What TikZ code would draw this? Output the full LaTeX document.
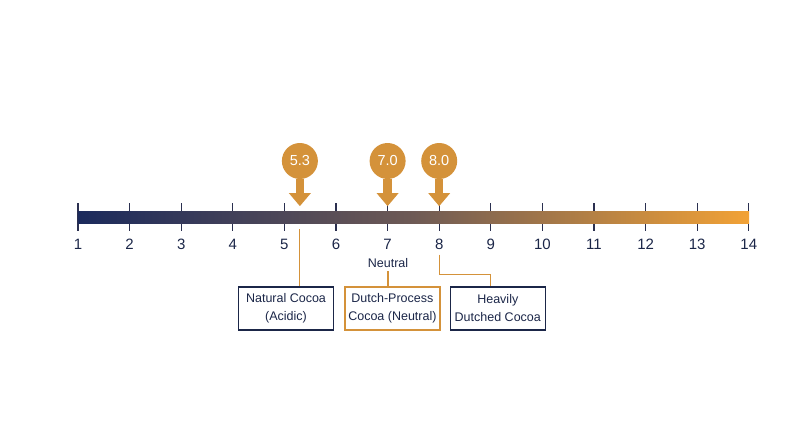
\documentclass[tikz,border=0pt]{standalone}
\usepackage{fontspec}
\setmainfont{Liberation Sans}
\usepackage{tikz}
\usetikzlibrary{arrows.meta, positioning, calc}
\definecolor{phnavy}{HTML}{1B2648}
\definecolor{phtick}{HTML}{2B3050}
\definecolor{phorange}{HTML}{D4923A}
\definecolor{barleft}{HTML}{1B2A5C}
\definecolor{barmid}{HTML}{6E5A55}
\definecolor{barright}{HTML}{F2A236}
\pgfdeclarehorizontalshading{phgrad}{100bp}{color(0bp)=(barleft); color(25bp)=(barleft); color(50bp)=(barmid); color(75bp)=(barright); color(100bp)=(barright)}

\begin{document}
\begin{tikzpicture}[x=1pt,y=-1pt]
    \tikzstyle{every node} = [font=\fontsize{12.5}{18}\selectfont, text=phnavy]
    \tikzstyle{tick} = [draw=phtick, line width=1.3pt]
    \tikzstyle{ticklabel} = [font=\fontsize{15}{17}\selectfont, inner sep=1pt]
    \tikzstyle{marker} = [circle, fill=phorange, minimum size=36pt, inner sep=0pt, text=white, font=\fontsize{14.5}{16}\selectfont]
    \tikzstyle{pointer} = [draw=phorange, line width=8.5pt, -{Triangle[width=21pt, length=13pt]}]
    \tikzstyle{block} = [draw=phnavy, line width=1.4pt, rectangle, minimum width=95pt, minimum height=43pt, align=center, inner sep=2pt]
    \tikzstyle{link} = [draw=phorange, line width=1.2pt]
    \useasboundingbox (0,0) rectangle (800,447);
    % scale
    \foreach \n in {1,...,14}{
      \draw[tick] ({78+(\n-1)*51.6},203) -- ++(0,28);
      \node[ticklabel] (t\n) at ({78+(\n-1)*51.6},244) {\n};
    }
    \shade[shading=phgrad] (78,211) rectangle (749,223);
    % place nodes
    \foreach \v/\nm in {5.3/m53, 7.0/m70, 8.0/m80}{
      \node[marker] (\nm) at ({78+(\v-1)*51.6},161) {\v};
      \draw[pointer] (\nm.south) -- ++(0,27);
    }
    \node (neutral) at (388,263) {Neutral};
    \node[block] (natural) at (286,308.5) {Natural Cocoa\\(Acidic)};
    \node[block, draw=phorange, right=10pt of natural] (dutch) {Dutch-Process\\Cocoa (Neutral)};
    \node[block, right=9pt of dutch] (heavy) {Heavily\\Dutched Cocoa};
    % Connections
    \draw[link] ($(m53.south)+(0,50)$) -- (natural.north -| m53);
    \draw[link] (neutral.south) -- (dutch.north -| neutral);
    \draw[link] ([yshift=-4pt]t8.south) |- ($(heavy.north -| t9)+(0,-12)$) -- (heavy.north -| t9);
\end{tikzpicture}
\end{document}
